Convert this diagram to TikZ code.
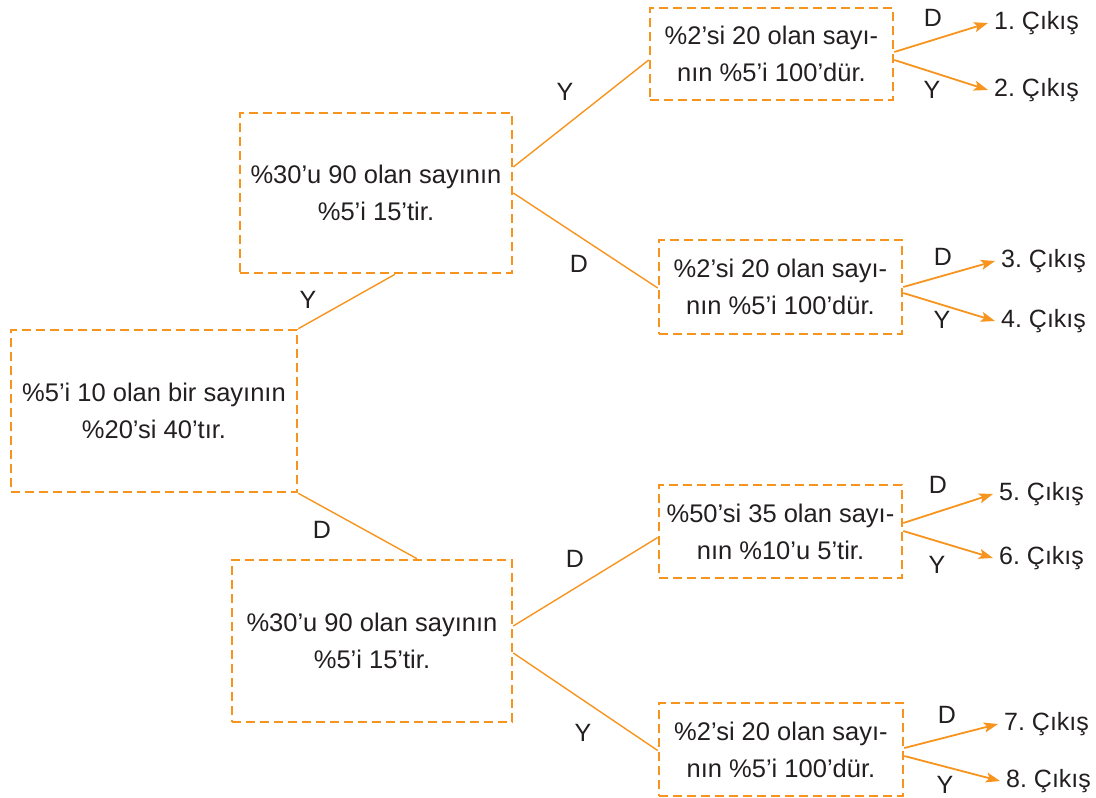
\documentclass[tikz,border=0pt]{standalone}
\usepackage{fontspec}
\setmainfont{Liberation Sans}
\usetikzlibrary{arrows.meta}
\definecolor{turuncu}{HTML}{F7941D}
\definecolor{yazi}{HTML}{231F20}

\begin{document}
\frenchspacing
\begin{tikzpicture}[
    x=1pt, y=-1pt,
    kutu/.style={draw=turuncu, rectangle, dash pattern=on 9pt off 5pt, line width=2.6pt, align=center, inner sep=0pt, text=yazi, font=\fontsize{25.5}{37}\selectfont},
    cikis/.style={anchor=west, inner sep=0pt, inner xsep=6pt, text=yazi, font=\fontsize{25}{30}\selectfont},
    etiket/.style={inner sep=0pt, text=yazi, font=\fontsize{25}{30}\selectfont},
    dal/.style={draw=turuncu, line width=1.4pt},
    ok/.style={draw=turuncu, line width=1.8pt, -{Stealth[length=14pt, width=10pt, inset=3pt]}}
]
\useasboundingbox (0,0) rectangle (1096,798);

% Kutular
\node (bas) [kutu, minimum width=286pt, minimum height=162pt] at (154,411) {\%5’i 10 olan bir sayının\\\%20’si 40’tır.};
\node (ust) [kutu, minimum width=272pt, minimum height=160pt] at (376,193) {\%30’u 90 olan sayının\\\%5’i 15’tir.};
\node (alt) [kutu, minimum width=280pt, minimum height=162pt] at (372,641) {\%30’u 90 olan sayının\\\%5’i 15’tir.};
\node (s1) [kutu, minimum width=243pt, minimum height=92pt] at (771.5,54) {\%2’si 20 olan sayı-\\nın \%5’i 100’dür.};
\node (s2) [kutu, minimum width=243pt, minimum height=94pt] at (780.5,287) {\%2’si 20 olan sayı-\\nın \%5’i 100’dür.};
\node (s3) [kutu, minimum width=243pt, minimum height=93pt] at (780.5,531.5) {\%50’si 35 olan sayı-\\nın \%10’u 5’tir.};
\node (s4) [kutu, minimum width=244pt, minimum height=93pt] at (781,749.5) {\%2’si 20 olan sayı-\\nın \%5’i 100’dür.};

% Çıkışlar
\node (c1) [cikis] at (988,23) {1. Çıkış};
\node (c2) [cikis] at (988,90) {2. Çıkış};
\node (c3) [cikis] at (995,261) {3. Çıkış};
\node (c4) [cikis] at (995,321) {4. Çıkış};
\node (c5) [cikis] at (993,494) {5. Çıkış};
\node (c6) [cikis] at (993,558) {6. Çıkış};
\node (c7) [cikis] at (998,724) {7. Çıkış};
\node (c8) [cikis] at (1000,781) {8. Çıkış};

% Etiketler
\node (e1) [etiket] at (308,300) {Y};
\node (e2) [etiket] at (322,530) {D};
\node (e3) [etiket] at (565,92) {Y};
\node (e4) [etiket] at (579,264) {D};
\node (e5) [etiket] at (575,559) {D};
\node (e6) [etiket] at (583,733) {Y};
\node (e7) [etiket] at (933,18) {D};
\node (e8) [etiket] at (932,90) {Y};
\node (e9) [etiket] at (943,257) {D};
\node (e10) [etiket] at (942,320) {Y};
\node (e11) [etiket] at (938,485) {D};
\node (e12) [etiket] at (937,565) {Y};
\node (e13) [etiket] at (947,715) {D};
\node (e14) [etiket] at (945,785) {Y};

% Dallar
\draw [dal] (bas.north east) -- ([xshift=19pt]ust.south);
\draw [dal] (bas.south east) -- ([xshift=45pt]alt.north);
\draw [dal] ([yshift=26pt]ust.east) -- ([yshift=-6pt]s1.west);
\draw [dal] (ust.east) -- ([yshift=-1pt]s2.west);
\draw [dal] ([yshift=15pt]alt.east) -- ([yshift=-6pt]s3.west);
\draw [dal] ([yshift=-12pt]alt.east) -- ([yshift=-1pt]s4.west);

% Oklar
\draw [ok] ([yshift=2pt]s1.east) -- (c1.west);
\draw [ok] ([yshift=-6pt]s1.east) -- (c2.west);
\draw [ok] (s2.east) -- (c3.west);
\draw [ok] ([yshift=-6pt]s2.east) -- (c4.west);
\draw [ok] ([yshift=8.5pt]s3.east) -- (c5.west);
\draw [ok] ([yshift=0.5pt]s3.east) -- (c6.west);
\draw [ok] ([yshift=1.5pt]s4.east) -- (c7.west);
\draw [ok] ([yshift=-6.5pt]s4.east) -- (c8.west);

\end{tikzpicture}
\end{document}
